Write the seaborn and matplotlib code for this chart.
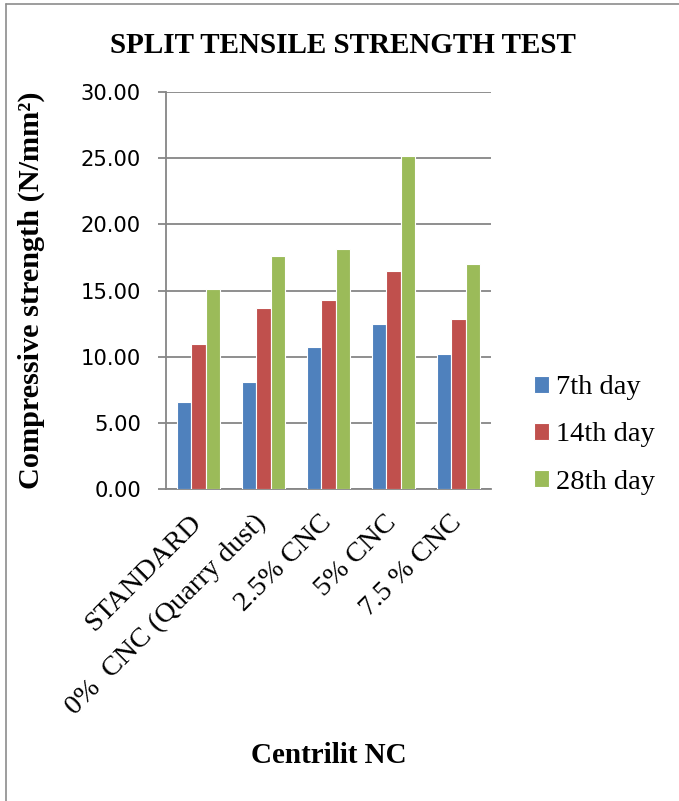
import matplotlib
matplotlib.use("Agg")
import matplotlib.pyplot as plt
import matplotlib.transforms as mtransforms
from matplotlib.ticker import FormatStrFormatter
from matplotlib.lines import Line2D
import seaborn as sns
import pandas as pd

# ---- data ----
categories = ["STANDARD", "0%  CNC (Quarry dust)", "2.5% CNC", "5% CNC", "7.5 % CNC"]
series = ["7th day", "14th day", "28th day"]
day7 = [6.55, 8.06, 10.76, 12.47, 10.20]
day14 = [10.98, 13.66, 14.31, 16.48, 12.85]
day28 = [15.12, 17.59, 18.14, 25.19, 16.98]
colors = ["#4F81BD", "#C0504D", "#9BBB59"]

df = pd.DataFrame({
    "category": categories * 3,
    "series": [series[0]] * 5 + [series[1]] * 5 + [series[2]] * 5,
    "value": day7 + day14 + day28,
})

sns.set_theme(style="white")
serif = ["Liberation Serif", "DejaVu Serif"]
plt.rcParams["font.family"] = serif
plt.rcParams["text.color"] = "black"
plt.rcParams["xtick.color"] = "black"
plt.rcParams["ytick.color"] = "black"

W, H = 679, 801
fig = plt.figure(figsize=(W / 100, H / 100), dpi=100)
ax = fig.add_axes([166 / W, 1 - 489 / H, (491 - 166) / W, (489 - 92) / H])

sns.barplot(data=df, x="category", y="value", hue="series", order=categories,
            hue_order=series, palette=colors, width=0.66, saturation=1,
            edgecolor="white", linewidth=0.8, ax=ax, zorder=3)

ax.set_ylim(0, 30)
ax.set_xlim(-0.5, 4.5)
ax.set_yticks([0, 5, 10, 15, 20, 25, 30])
ax.yaxis.set_major_formatter(FormatStrFormatter("%.2f"))
grid_c = "#868686"
ax.yaxis.grid(True, color=grid_c, linewidth=1.3, zorder=0)
ax.xaxis.grid(False)
ax.set_axisbelow(True)
for s in ["top", "right"]:
    ax.spines[s].set_visible(False)
for s in ["left", "bottom"]:
    ax.spines[s].set_color(grid_c)
    ax.spines[s].set_linewidth(1.3)

ax.tick_params(axis="y", which="major", left=True, length=6, width=1.3,
               color=grid_c, labelcolor="black", pad=12, labelsize=15.2)
for lab in ax.get_yticklabels():
    lab.set_family("DejaVu Sans")

ax.tick_params(axis="x", length=0, pad=15.5, labelsize=20.5, labelcolor="black")
ax.set_xticks(range(len(categories)))
ax.set_xticklabels(categories, rotation=45, ha="right", va="top",
                   rotation_mode="anchor")
offset = mtransforms.ScaledTranslation(-7 / 72, 0, fig.dpi_scale_trans)
for lab in ax.get_xticklabels():
    lab.set_transform(lab.get_transform() + offset)

ax.set_xlabel("")
ax.set_ylabel("")

handles, labels = ax.get_legend_handles_labels()
ax.get_legend().remove()
fig.legend(handles, labels, loc="center left",
           bbox_to_anchor=(534 / W, 1 - 435 / H), frameon=False,
           fontsize=20.5, handlelength=0.53, handleheight=0.53,
           handletextpad=0.25, labelspacing=0.78, borderpad=0,
           borderaxespad=0)

fig.text(343 / W, 1 - 53 / H, "SPLIT TENSILE STRENGTH TEST", ha="center",
         va="baseline", fontsize=21, fontweight="bold")
fig.text(31 / W, 1 - 290 / H, "Compressive strength (N/mm²)",
         ha="center", va="center", rotation=90, fontsize=21.8, fontweight="bold")
fig.text(329 / W, 1 - 763 / H, "Centrilit NC", ha="center", va="baseline",
         fontsize=21, fontweight="bold")

# outer border (top and left)
fig.add_artist(Line2D([6 / W, 6 / W], [0, 1 - 4 / H], transform=fig.transFigure,
                      color="#8c8c8c", linewidth=1.2))
fig.add_artist(Line2D([6 / W, 1], [1 - 4 / H, 1 - 4 / H], transform=fig.transFigure,
                      color="#8c8c8c", linewidth=1.2))

fig.savefig("out.png", dpi=100)
